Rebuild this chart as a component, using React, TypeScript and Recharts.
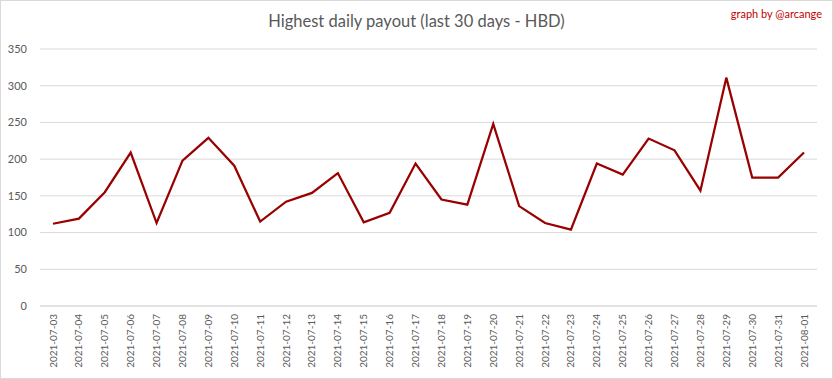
import React from "react";
import { LineChart, Line, XAxis, YAxis, CartesianGrid } from "recharts";

const dates = [
  "2021-07-03", "2021-07-04", "2021-07-05", "2021-07-06", "2021-07-07",
  "2021-07-08", "2021-07-09", "2021-07-10", "2021-07-11", "2021-07-12",
  "2021-07-13", "2021-07-14", "2021-07-15", "2021-07-16", "2021-07-17",
  "2021-07-18", "2021-07-19", "2021-07-20", "2021-07-21", "2021-07-22",
  "2021-07-23", "2021-07-24", "2021-07-25", "2021-07-26", "2021-07-27",
  "2021-07-28", "2021-07-29", "2021-07-30", "2021-07-31", "2021-08-01",
];

const payouts = [
  112, 119, 155, 209, 113,
  198, 229, 191, 115, 142,
  154, 181, 114, 127, 194,
  145, 138, 248, 136, 113,
  104, 194, 179, 228, 212,
  157, 311, 175, 175, 209,
];

const yTicks = [0, 50, 100, 150, 200, 250, 300, 350];

const data = dates.map((d, i) => ({ date: d, value: payouts[i] }));

const FONT = "Lato, 'Open Sans', sans-serif";

const XTick = (props: any) => {
  const { x, y, payload } = props;
  return (
    <text
      x={x}
      y={y}
      dy="0.35em"
      textAnchor="end"
      transform={`rotate(-90 ${x} ${y})`}
      fill="#595959"
      fontSize={10}
      fontFamily={FONT}
    >
      {payload.value}
    </text>
  );
};

export default function App() {
  return (
    <div
      style={{
        position: "absolute",
        left: 0,
        top: 0,
        width: 833,
        height: 379,
        background: "#fff",
        fontFamily: FONT,
      }}
    >
      <div
        style={{
          position: "absolute",
          left: 0,
          top: 0,
          width: 831,
          height: 377,
          border: "1px solid #d9d9d9",
        }}
      />
      <div
        style={{
          position: "absolute",
          left: 0,
          top: 11,
          width: 833,
          textAlign: "center",
          fontSize: 16.5,
          color: "#595959",
          fontFamily: FONT,
          fontWeight: 400,
          lineHeight: "20px",
        }}
      >
        Highest daily payout (last 30 days - HBD)
      </div>
      <div
        style={{
          position: "absolute",
          right: 11,
          top: 7,
          fontSize: 11,
          color: "#c00000",
          fontFamily: FONT,
          lineHeight: "14px",
        }}
      >
        graph by @arcange
      </div>
      <LineChart
        width={833}
        height={379}
        data={data}
        margin={{ top: 49, right: 16, bottom: 0, left: 0 }}
      >
        <CartesianGrid vertical={false} stroke="#d9d9d9" strokeWidth={1} />
        <XAxis
          dataKey="date"
          interval={0}
          height={73}
          padding={{ left: 13, right: 13 }}
          tickLine={false}
          axisLine={{ stroke: "#d9d9d9" }}
          tick={<XTick />}
        />
        <YAxis
          width={40}
          domain={[0, 350]}
          ticks={yTicks}
          tickLine={false}
          axisLine={false}
          tickMargin={7}
          tick={{ fill: "#595959", fontSize: 11, fontFamily: FONT }}
        />
        <Line
          type="linear"
          dataKey="value"
          stroke="#990000"
          strokeWidth={2.25}
          dot={false}
          isAnimationActive={false}
        />
      </LineChart>
    </div>
  );
}
